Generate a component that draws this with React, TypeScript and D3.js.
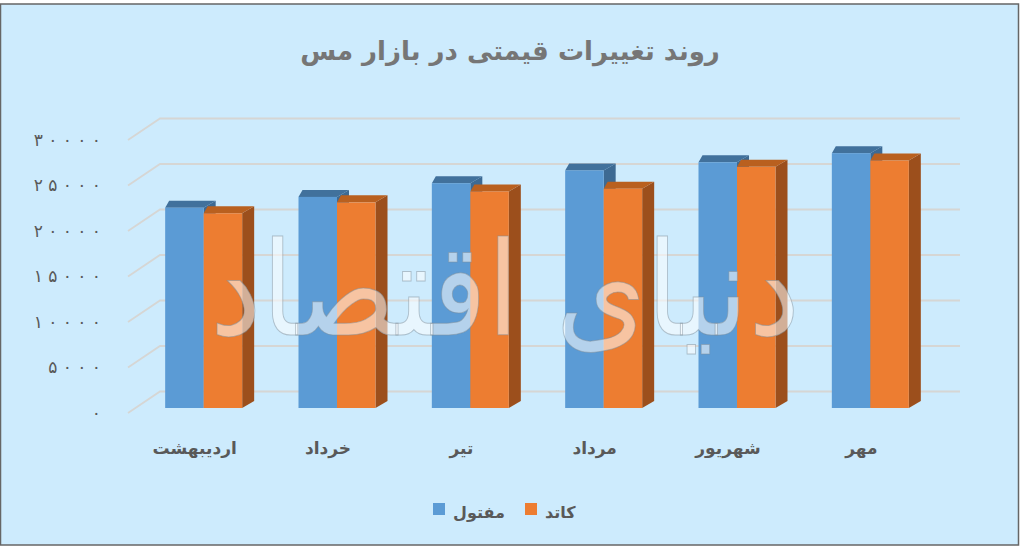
import React, { useRef, useLayoutEffect } from 'react';
import * as d3 from 'd3';

// months (category axis), right to left in the original but drawn left to right
const months = ['اردیبهشت', 'خرداد', 'تیر', 'مرداد', 'شهریور', 'مهر'];
// series values
const wireValues = [22000, 23200, 24700, 26100, 27000, 28000];
const cathodeValues = [21400, 22600, 23800, 24100, 26500, 27200];
const seriesNames = ['مفتول', 'کاتد'];
const yTicks = [0, 5000, 10000, 15000, 20000, 25000, 30000];

const title = 'روند تغییرات قیمتی در بازار مس';
const watermark = 'دنیای اقتصاد';

const faDigits = '۰۱۲۳۴۵۶۷۸۹';
// persian digits, spaced out like the original tick labels
const toPersian = (n: number) =>
  String(n)
    .split('')
    .map((d) => faDigits[+d])
    .join(' ');

const W = 1024;
const H = 547;
const FONT = '"DejaVu Sans", sans-serif';

const colors = [
  { front: '#5B9BD5', top: '#41719C', side: '#3D6A93' },
  { front: '#ED7D31', top: '#B9601F', side: '#9C4F1C' },
];

const App: React.FC = () => {
  const ref = useRef<SVGSVGElement>(null);

  useLayoutEffect(() => {
    const svg = d3.select(ref.current);
    svg.selectAll('*').remove();

    svg.append('rect').attr('width', W).attr('height', H).attr('fill', '#fff');
    svg
      .append('rect')
      .attr('x', 0.5)
      .attr('y', 4)
      .attr('width', 1018)
      .attr('height', 541)
      .attr('fill', '#CDEBFD')
      .attr('stroke', '#666')
      .attr('stroke-width', 1.5);

    // front plane of the 3D box
    const y = d3.scaleLinear().domain([0, 30000]).range([413, 140]);
    const x = d3.scaleBand<string>().domain(months).range([128, 928]);
    const wall = { dx: 32, dy: -21.5 };
    const barPlane = { dx: 9, dy: -5 };
    const depth = { dx: 12, dy: -7, lx: 4 };
    const groupW = 77;
    const xs = d3.scaleBand<number>().domain([0, 1]).range([0, groupW]);

    // gridlines with wall diagonal
    const grid = svg.append('g');
    yTicks.forEach((t) => {
      const yy = y(t);
      grid
        .append('path')
        .attr(
          'd',
          `M${x.range()[0]},${yy}L${x.range()[0] + wall.dx},${yy + wall.dy}L${x.range()[1] + wall.dx},${yy + wall.dy}`
        )
        .attr('fill', 'none')
        .attr('stroke', '#D6D6D4')
        .attr('stroke-width', 1.8);
    });

    // y labels
    svg
      .append('g')
      .selectAll('text')
      .data(yTicks)
      .enter()
      .append('text')
      .attr('x', 101)
      .attr('y', (d) => y(d))
      .attr('dy', '0.35em')
      .attr('text-anchor', 'end')
      .attr('font-family', FONT)
      .attr('font-size', 17)
      .attr('xml:space', 'preserve')
      .style('white-space', 'pre')
      .attr('fill', '#595959')
      .text((d) => toPersian(d));

    // bars
    const bars = svg.append('g');
    const series = [wireValues, cathodeValues];
    months.forEach((m, i) => {
      const x0 = (x(m) as number) + (x.bandwidth() - groupW) / 2 + barPlane.dx;
      series.forEach((vals, s) => {
        const bx = x0 + (xs(s) as number);
        const bw = xs.bandwidth();
        const yb = y(0) + barPlane.dy;
        const yt = y(vals[i]) + barPlane.dy;
        const c = colors[s];
        bars
          .append('path')
          .attr(
            'd',
            `M${bx + bw},${yt}L${bx + bw + depth.dx},${yt + depth.dy}L${bx + bw + depth.dx},${yb + depth.dy}L${bx + bw},${yb}Z`
          )
          .attr('fill', c.side);
        bars
          .append('path')
          .attr(
            'd',
            `M${bx},${yt}L${bx + depth.lx},${yt + depth.dy}L${bx + bw + depth.dx},${yt + depth.dy}L${bx + bw},${yt}Z`
          )
          .attr('fill', c.top);
        bars
          .append('rect')
          .attr('x', bx)
          .attr('y', yt)
          .attr('width', bw)
          .attr('height', yb - yt)
          .attr('fill', c.front);
      });
    });

    // watermark over the bars
    svg
      .append('text')
      .attr('x', 505)
      .attr('y', 335)
      .attr('text-anchor', 'middle')
      .attr('font-family', FONT)
      .attr('font-size', 130)
      .attr('textLength', 590)
      .attr('lengthAdjust', 'spacingAndGlyphs')
      .attr('fill', '#fff')
      .attr('fill-opacity', 0.55)
      .attr('stroke', '#7d8e99')
      .attr('stroke-opacity', 0.5)
      .attr('stroke-width', 1)
      .text(watermark);

    // category labels
    svg
      .append('g')
      .selectAll('text')
      .data(months)
      .enter()
      .append('text')
      .attr('x', (d) => (x(d) as number) + x.bandwidth() / 2)
      .attr('y', 454)
      .attr('text-anchor', 'middle')
      .attr('font-family', FONT)
      .attr('font-size', 17)
      .attr('font-weight', 'bold')
      .attr('fill', '#595959')
      .text((d) => d);

    // title
    svg
      .append('text')
      .attr('x', 510)
      .attr('y', 60)
      .attr('text-anchor', 'middle')
      .attr('font-family', FONT)
      .attr('font-size', 26)
      .attr('font-weight', 'bold')
      .attr('fill', '#767676')
      .text(title);

    // legend
    const legendX = [433, 525];
    const legend = svg.append('g');
    seriesNames.forEach((name, s) => {
      legend
        .append('rect')
        .attr('x', legendX[s])
        .attr('y', 503)
        .attr('width', 12)
        .attr('height', 12)
        .attr('fill', colors[s].front);
      legend
        .append('text')
        .attr('x', legendX[s] + 20)
        .attr('y', 518)
        .attr('text-anchor', 'start')
        .attr('font-family', FONT)
        .attr('font-size', 16)
        .attr('font-weight', 'bold')
        .attr('fill', '#595959')
        .text(name);
    });
  }, []);

  return (
    <svg
      ref={ref}
      width={W}
      height={H}
      style={{ position: 'absolute', left: 0, top: 0 }}
    />
  );
};

export default App;
